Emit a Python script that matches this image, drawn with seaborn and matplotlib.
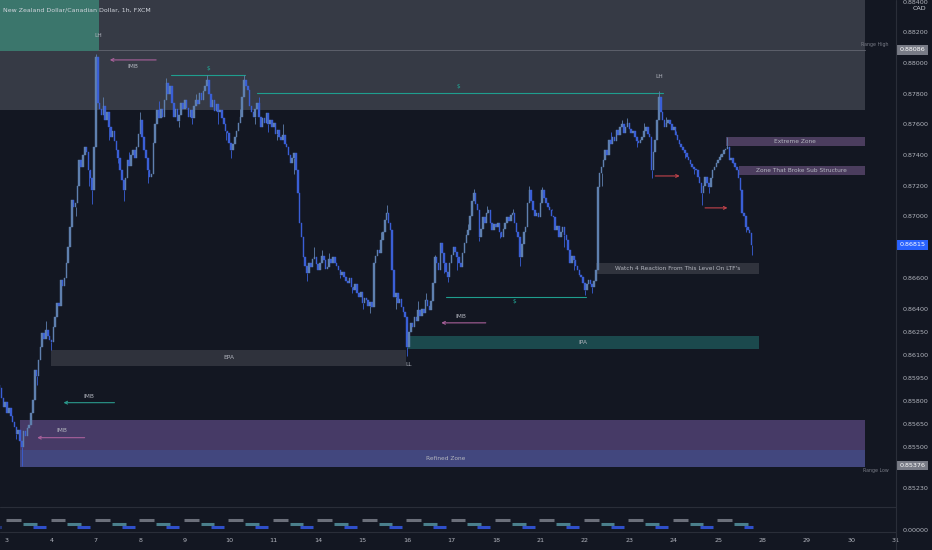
import matplotlib
matplotlib.use("Agg")
import matplotlib.pyplot as plt
from matplotlib.patches import Rectangle
from matplotlib.lines import Line2D
import matplotlib.transforms as mtransforms
import seaborn as sns

# hourly closes NZDCAD
closes = [
    0.85883, 0.85820, 0.85760, 0.85790, 0.85720, 0.85750, 0.85700, 0.85660, 0.85629, 0.85580, 0.85610, 0.85540,
    0.85498, 0.85600, 0.85570, 0.85620, 0.85640, 0.85720, 0.85804, 0.86000, 0.85960, 0.86065, 0.86150, 0.86241,
    0.86200, 0.86260, 0.86220, 0.86195, 0.86180, 0.86280, 0.86345, 0.86436, 0.86420, 0.86586, 0.86550, 0.86600,
    0.86697, 0.86800, 0.86932, 0.87107, 0.87060, 0.87088, 0.87200, 0.87368, 0.87320, 0.87400, 0.87453, 0.87420,
    0.87303, 0.87250, 0.87173, 0.87453, 0.88039, 0.87739, 0.87700, 0.87660, 0.87720, 0.87630, 0.87680, 0.87580,
    0.87518, 0.87560, 0.87490, 0.87433, 0.87380, 0.87300, 0.87240, 0.87173, 0.87250, 0.87368, 0.87330, 0.87400,
    0.87433, 0.87380, 0.87450, 0.87540, 0.87629, 0.87520, 0.87433, 0.87380, 0.87300, 0.87257, 0.87280, 0.87479,
    0.87600, 0.87694, 0.87640, 0.87700, 0.87648, 0.87760, 0.87870, 0.87800, 0.87850, 0.87740, 0.87648, 0.87700,
    0.87620, 0.87660, 0.87739, 0.87700, 0.87760, 0.87710, 0.87650, 0.87694, 0.87640, 0.87720, 0.87760, 0.87730,
    0.87805, 0.87760, 0.87820, 0.87850, 0.87889, 0.87800, 0.87713, 0.87760, 0.87690, 0.87730, 0.87680, 0.87694,
    0.87640, 0.87600, 0.87560, 0.87544, 0.87480, 0.87433, 0.87470, 0.87518, 0.87560, 0.87610, 0.87648, 0.87780,
    0.87889, 0.87850, 0.87824, 0.87720, 0.87680, 0.87648, 0.87700, 0.87739, 0.87650, 0.87583, 0.87640, 0.87610,
    0.87674, 0.87600, 0.87629, 0.87580, 0.87610, 0.87540, 0.87564, 0.87520, 0.87498, 0.87530, 0.87470, 0.87453,
    0.87400, 0.87349, 0.87380, 0.87414, 0.87303, 0.87150, 0.86960, 0.86866, 0.86736, 0.86680, 0.86632, 0.86700,
    0.86671, 0.86720, 0.86736, 0.86690, 0.86651, 0.86700, 0.86740, 0.86717, 0.86660, 0.86671, 0.86720, 0.86700,
    0.86736, 0.86700, 0.86680, 0.86651, 0.86620, 0.86640, 0.86606, 0.86580, 0.86567, 0.86600, 0.86540, 0.86521,
    0.86560, 0.86500, 0.86476, 0.86510, 0.86436, 0.86470, 0.86456, 0.86420, 0.86440, 0.86410, 0.86697, 0.86740,
    0.86782, 0.86760, 0.86847, 0.86900, 0.86980, 0.87023, 0.86960, 0.86912, 0.86651, 0.86476, 0.86500, 0.86436,
    0.86460, 0.86410, 0.86380, 0.86345, 0.86150, 0.86250, 0.86306, 0.86280, 0.86345, 0.86320, 0.86391, 0.86350,
    0.86400, 0.86371, 0.86456, 0.86420, 0.86391, 0.86450, 0.86567, 0.86736, 0.86700, 0.86651, 0.86827, 0.86760,
    0.86697, 0.86640, 0.86606, 0.86697, 0.86750, 0.86801, 0.86770, 0.86736, 0.86700, 0.86671, 0.86760, 0.86827,
    0.86880, 0.86912, 0.87000, 0.87100, 0.87153, 0.87080, 0.87042, 0.86866, 0.86920, 0.86997, 0.86960, 0.87020,
    0.87042, 0.86960, 0.86912, 0.86950, 0.86930, 0.86958, 0.86900, 0.86866, 0.86920, 0.86960, 0.86997, 0.86970,
    0.87010, 0.87023, 0.86960, 0.86900, 0.86866, 0.86736, 0.86820, 0.86900, 0.86932, 0.87088, 0.87173, 0.87100,
    0.87042, 0.87000, 0.87020, 0.86997, 0.87088, 0.87173, 0.87120, 0.87088, 0.87060, 0.87042, 0.87000, 0.86997,
    0.86912, 0.86940, 0.86866, 0.86900, 0.86932, 0.86880, 0.86847, 0.86782, 0.86697, 0.86740, 0.86717, 0.86680,
    0.86651, 0.86620, 0.86606, 0.86567, 0.86521, 0.86560, 0.86586, 0.86560, 0.86541, 0.86580, 0.86651, 0.87192,
    0.87283, 0.87320, 0.87368, 0.87433, 0.87400, 0.87498, 0.87470, 0.87518, 0.87490, 0.87564, 0.87530, 0.87583,
    0.87600, 0.87544, 0.87580, 0.87609, 0.87570, 0.87544, 0.87560, 0.87518, 0.87490, 0.87479, 0.87500, 0.87518,
    0.87560, 0.87583, 0.87540, 0.87518, 0.87303, 0.87420, 0.87498, 0.87629, 0.87780, 0.87680, 0.87629, 0.87583,
    0.87610, 0.87629, 0.87600, 0.87564, 0.87580, 0.87530, 0.87498, 0.87470, 0.87453, 0.87430, 0.87414, 0.87390,
    0.87368, 0.87340, 0.87323, 0.87310, 0.87303, 0.87260, 0.87218, 0.87153, 0.87200, 0.87257, 0.87220, 0.87192,
    0.87250, 0.87303, 0.87320, 0.87349, 0.87370, 0.87388, 0.87410, 0.87433, 0.87440, 0.87453, 0.87368, 0.87380,
    0.87349, 0.87320, 0.87303, 0.87250, 0.87173, 0.87023, 0.87000, 0.86932, 0.86910, 0.86893, 0.86815,
]
first_open = 0.85900

# wicks that stick out of the bodies (bar index, extreme price)
wick_bars = [9, 12, 20, 25, 28, 36, 41, 48, 50, 52, 56, 59, 64, 67, 70, 76, 80, 86, 90, 97,
             104, 106, 112, 118, 122, 125, 130, 132, 138, 140, 145, 150, 153, 159, 166, 170,
             174, 178, 184, 190, 196, 200, 206, 209, 214, 220, 226, 230, 235, 240, 242, 247,
             253, 256, 259, 263, 270, 277, 281, 286, 293, 298, 305, 310, 316, 320, 325, 330,
             336, 339, 344, 348, 352, 356, 360, 365, 370, 375, 379, 383, 389, 393, 396, 400,
             403, 406]
wick_prices = [0.85550, 0.85376, 0.85900, 0.86320, 0.86130, 0.86600, 0.87000, 0.87200, 0.87080,
               0.88060, 0.87780, 0.87500, 0.87350, 0.87100, 0.87420, 0.87680, 0.87220, 0.87750,
               0.87900, 0.87580, 0.87600, 0.87800, 0.87920, 0.87600, 0.87500, 0.87380, 0.87700,
               0.87920, 0.87600, 0.87780, 0.87550, 0.87500, 0.87600, 0.87280, 0.86580, 0.86800,
               0.86780, 0.86760, 0.86600, 0.86500, 0.86400, 0.86370, 0.86900, 0.87075, 0.86400,
               0.86091, 0.86450, 0.86500, 0.86750, 0.86630, 0.86570, 0.86650, 0.86950, 0.87180,
               0.86840, 0.87070, 0.86860, 0.87050, 0.86680, 0.87200, 0.87190, 0.87050, 0.86800,
               0.86650, 0.86490, 0.86500, 0.87200, 0.87550, 0.87630, 0.87640, 0.87450, 0.87610,
               0.87250, 0.87820, 0.87650, 0.87560, 0.87380, 0.87280, 0.87075, 0.87150, 0.87410,
               0.87518, 0.87380, 0.87200, 0.86900, 0.86750]

day_labels = ["3", "4", "7", "8", "9", "10", "11", "14", "15", "16", "17", "18",
              "21", "22", "23", "24", "25", "28", "29", "30", "31"]
first_day_bar = 4
bars_per_day = 24

price_ticks = [0.884, 0.882, 0.880, 0.878, 0.876, 0.874, 0.872, 0.870, 0.866, 0.864,
               0.8625, 0.861, 0.8595, 0.858, 0.8565, 0.855, 0.8523]

range_high = 0.88086
range_low = 0.85376
last_price = 0.86815

# session volume steps (grey / teal / blue) drawn on every trading day
session_levels = [4.3, 2.5, 1.0]
session_spans = [(-0.5, 7.5), (8.6, 16.0), (14.0, 21.0)]
session_colors = ["#6b6f7a", "#4a7f8c", "#2f4fc9"]

bg = "#131722"
txt = "#b2b5be"
up_col = "#5f80ae"
dn_col = "#3a5fd6"
teal_line = "#1f9e8e"

sns.set_style("dark", {"axes.facecolor": bg, "figure.facecolor": bg})
plt.rcParams["font.family"] = ["DejaVu Sans"]

fig = plt.figure(figsize=(9.32, 5.5), dpi=100)
fig.patch.set_facecolor(bg)
W, H = 932, 550
ax = fig.add_axes([0, 43 / H, 896 / W, 507 / H])
axv = fig.add_axes([0, 18 / H, 896 / W, 25 / H], sharex=ax)
for a in (ax, axv):
    a.set_facecolor(bg)
    for s in a.spines.values():
        s.set_visible(False)
    a.grid(False)

xmin, xmax = 0.2, 482.4
ymin, ymax = 0.851073, 0.884104
ax.set_xlim(xmin, xmax)
ax.set_ylim(ymin, ymax)


def rect(x0, x1, p0, p1, color, z=1):
    ax.add_patch(Rectangle((x0, p0), x1 - x0, p1 - p0, facecolor=color,
                           edgecolor="none", zorder=z))


# zones
rect(0, 467, 0.87694, ymax, "#363a45", z=0)
rect(0, 53.8, 0.88078, ymax, "#3b766c", z=0.5)
rect(10.8, 467, 0.85481, 0.85676, "#463a66", z=0.5)
rect(10.8, 467, 0.85370, 0.85481, "#42477e", z=0.5)
rect(28, 219.6, 0.86028, 0.86132, "#2f323c", z=0.5)
rect(220.7, 410, 0.86138, 0.86223, "#1b494d", z=0.5)
rect(322, 410, 0.86626, 0.86698, "#30333d", z=0.5)
rect(392, 467, 0.87460, 0.87518, "#4b3d5e", z=0.5)
rect(399, 467, 0.87271, 0.87329, "#4b3d5e", z=0.5)

# lines
ax.plot([53, 467], [range_high, range_high], color="#5d606b", lw=0.7, zorder=1)
ax.plot([92.6, 132.4], [0.87922, 0.87922], color=teal_line, lw=0.8, zorder=1.5)
ax.plot([139, 358], [0.87805, 0.87805], color=teal_line, lw=0.8, zorder=1.5)
ax.plot([241, 316.5], [0.86477, 0.86477], color=teal_line, lw=0.8, zorder=1.5)


def arrow(x_from, x_to, p, color):
    ax.annotate("", xy=(x_to, p), xytext=(x_from, p),
                arrowprops=dict(arrowstyle="->", color=color, lw=0.8,
                                mutation_scale=5), zorder=3)


arrow(86, 58, 0.88020, "#a9619b")
arrow(63.5, 33, 0.85787, "#2a9a8c")
arrow(47.4, 18.8, 0.85559, "#a9619b")
arrow(264, 237, 0.86307, "#a9619b")
arrow(352.5, 368.7, 0.87264, "#c2434b")
arrow(379.4, 394.5, 0.87056, "#c2434b")

# candles
opens = [first_open] + closes[:-1]
xs = list(range(len(closes)))
cols = [up_col if c >= o else dn_col for o, c in zip(opens, closes)]
tops = [max(o, c) for o, c in zip(opens, closes)]
bottoms = [min(o, c) for o, c in zip(opens, closes)]
heights = [t - b for t, b in zip(tops, bottoms)]
ax.bar(xs, heights, bottom=bottoms, width=0.85, color=cols, edgecolor=cols,
       linewidth=0.3, zorder=2)
wick_base = [tops[b] if p > tops[b] else bottoms[b] for b, p in zip(wick_bars, wick_prices)]
ax.vlines(wick_bars, wick_base, wick_prices,
          colors=[cols[b] for b in wick_bars], lw=0.6, zorder=2)

# labels on chart
fs = 4.2
def label(x, p, s, color=txt, size=fs):
    ax.text(x, p, s, color=color, fontsize=size, ha="center", va="center", zorder=4)


label(53, 0.88182, "LH")
label(356, 0.87910, "LH")
label(220.7, 0.86035, "LL")
label(72, 0.87980, "IMB")
label(48, 0.85826, "IMB")
label(33.4, 0.85604, "IMB")
label(249, 0.86346, "IMB")
label(112.5, 0.87961, "$", color="#22a796")
label(247.6, 0.87850, "$", color="#22a796")
label(278, 0.86444, "$", color="#22a796")
label(124, 0.86080, "EPA")
label(315, 0.86180, "IPA")
label(241, 0.85425, "Refined Zone")
label(366, 0.86662, "Watch 4 Reaction From This Level On LTF's")
label(429.5, 0.87489, "Extreme Zone")
label(433, 0.87300, "Zone That Broke Sub Structure")
ax.text(480, range_high + 0.00032, "Range High", color="#787b86", fontsize=3.4,
        ha="right", va="center")
ax.text(480, range_low - 0.00032, "Range Low", color="#787b86", fontsize=3.4,
        ha="right", va="center")
ax.text(2, ymax - 0.00064, "New Zealand Dollar/Canadian Dollar, 1h, FXCM",
        color="#d1d4dc", fontsize=4.5, ha="left", va="center")

# right price scale
ax.yaxis.tick_right()
ax.set_yticks(price_ticks)
ax.set_yticklabels([f"{t:.5f}" for t in price_ticks])
ax.tick_params(axis="y", length=0, pad=4.5, labelsize=4.6, labelcolor=txt)
ax.tick_params(axis="x", bottom=False, labelbottom=False)
ax.text(1.018, 0.984, "CAD", transform=ax.transAxes, color="#d1d4dc",
        fontsize=4.6, ha="left", va="center")
trans = mtransforms.blended_transform_factory(ax.transAxes, ax.transData)
for p, fc in [(range_high, "#787b86"), (last_price, "#2962ff"), (range_low, "#787b86")]:
    ax.text(1.004, p, f"{p:.5f}", transform=trans, color="white", fontsize=4.6,
            ha="left", va="center", zorder=5,
            bbox=dict(boxstyle="square,pad=0.35", facecolor=fc, edgecolor="none"))

# volume pane
axv.set_ylim(-1, 10)
for d in range(-1, 17):
    start = first_day_bar + d * bars_per_day
    for lvl, (s0, s1), c in zip(session_levels, session_spans, session_colors):
        a0, a1 = start + s0, start + s1
        if a1 < 0 or a0 > len(closes):
            continue
        axv.hlines(lvl, max(a0, 0), min(a1, len(closes)), color=c, lw=2.2)
axv.yaxis.tick_right()
axv.set_yticks([0])
axv.set_yticklabels(["0.00000"])
axv.tick_params(axis="y", length=0, pad=4.5, labelsize=4.6, labelcolor=txt)
day_pos = [first_day_bar + i * bars_per_day for i in range(len(day_labels))]
axv.set_xticks(day_pos)
axv.set_xticklabels(day_labels)
axv.tick_params(axis="x", length=0, pad=4, labelsize=4.6, labelcolor=txt)

# separators
fig.add_artist(Line2D([0, 896 / W], [43 / H, 43 / H], color="#2a2e39", lw=0.8))
fig.add_artist(Line2D([0, 896 / W], [18 / H, 18 / H], color="#2a2e39", lw=0.8))
fig.add_artist(Line2D([896 / W, 896 / W], [0, 1], color="#2a2e39", lw=0.8))

fig.savefig("out.png", dpi=100, facecolor=bg)
